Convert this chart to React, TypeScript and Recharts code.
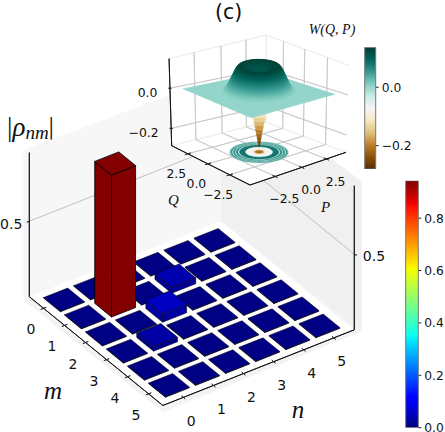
import React from "react";
import { ScatterChart, Scatter, XAxis, YAxis } from "recharts";

// values
const mTicks = [0, 1, 2, 3, 4, 5];
const nTicks = [0, 1, 2, 3, 4, 5];
const rhoRows = [
  [0.004, 0.004, 0.004, 0.004, 0.004, 0.004],
  [0.004, 0.94, 0.004, 0.04, 0.004, 0.004],
  [0.004, 0.004, 0.055, 0.004, 0.004, 0.004],
  [0.004, 0.03, 0.004, 0.004, 0.004, 0.004],
  [0.004, 0.004, 0.004, 0.004, 0.004, 0.004],
  [0.004, 0.004, 0.004, 0.004, 0.004, 0.004],
];
const rhoAxisTicks = [0.5];
const rhoBarTicks = [0, 0.2, 0.4, 0.6, 0.8];
const rhoBarDomain = [0, 0.943];

const phaseTicks = [-2.5, 0, 2.5];
const wAxisTicks = [0, -0.2];
const wBarDomain = [-0.28, 0.137];

// radial cuts of W(Q,P): radius and height, outside to inside
const hillRadius = [2.75, 2.65, 2.55, 2.47, 2.4, 2.33, 2.26, 2.2, 2.14, 2.08, 2.02, 1.96, 1.9, 1.85, 1.8, 1.75, 1.7, 1.65, 1.6, 1.55, 1.5, 1.42, 1.32, 1.2, 1.05, 0.9, 0.7, 0.5, 0.3];
const hillW = [0.003, 0.008, 0.014, 0.02, 0.027, 0.034, 0.042, 0.05, 0.058, 0.066, 0.074, 0.082, 0.09, 0.097, 0.103, 0.109, 0.114, 0.118, 0.122, 0.125, 0.127, 0.128, 0.127, 0.125, 0.122, 0.118, 0.114, 0.111, 0.109];
const spikeRadius = [0, 0.06, 0.11, 0.16, 0.21, 0.27, 0.33, 0.39, 0.45, 0.52, 0.6, 0.68, 0.77, 0.88];
const spikeW = [-0.278, -0.262, -0.245, -0.228, -0.21, -0.19, -0.17, -0.15, -0.13, -0.11, -0.09, -0.07, -0.05, -0.03];
const contourRadius = [2.2, 2.08, 2.0, 1.94, 1.8, 1.74, 1.56, 1.48, 1.02, 0.45, 0.35, 0.22, 0.1];
const contourW = [0.03, 0.058, -0.05, 0.058, -0.05, 0.058, -0.06, 0.082, -0.07, -0.12, -0.18, -0.22, -0.19];

const JET = [
  [0, "#00007f"], [0.11, "#0000ff"], [0.125, "#0000ff"], [0.34, "#00dbff"], [0.375, "#0cfff2"],
  [0.64, "#f6ff00"], [0.66, "#ffea00"], [0.89, "#ff1300"], [0.91, "#ed0000"], [1, "#7f0000"],
] as [number, string][];
const BRBG = [
  [0, "#543005"], [0.1, "#8c510a"], [0.2, "#bf812d"], [0.3, "#dfc27d"], [0.4, "#f6e8c3"], [0.5, "#f5f5f5"],
  [0.6, "#c7eae5"], [0.7, "#80cdc1"], [0.8, "#35978f"], [0.9, "#01665e"], [1, "#003c30"],
] as [number, string][];

const rgb = (h: string) => [1, 3, 5].map((i) => parseInt(h.slice(i, i + 2), 16));
const colorAt = (stops: [number, string][], t: number, k = 1) => {
  const c = Math.min(1, Math.max(0, t));
  let i = 0;
  while (i < stops.length - 2 && c > stops[i + 1][0]) i++;
  const [p0, h0] = stops[i];
  const [p1, h1] = stops[i + 1];
  const f = (c - p0) / (p1 - p0);
  const a = rgb(h0);
  const b = rgb(h1);
  return `rgb(${a.map((v, j) => Math.round((v + (b[j] - v) * f) * k)).join(",")})`;
};
const wColor = (w: number) => colorAt(BRBG, (w - wBarDomain[0]) / (wBarDomain[1] - wBarDomain[0]));
const rhoColor = (v: number, k = 1) => colorAt(JET, v / rhoBarDomain[1], k);

type Pt = { x: number; y: number };

// main 3D axes, nearly affine
const LO = -0.68;
const HI = 5.68;
const mainP = (m: number, n: number, z: number): Pt => ({
  x: 29.3 + (m - LO) * 21 + (n - LO) * 30.1,
  y: 296.7 + (m - LO) * 17.1 - (n - LO) * 11.9 - z * 151,
});

// inset 3D axes, floor quad through a homography
const PH = 4.66;
const ZMIN = -0.286;
const ZTOP = 0.147;
const quad = { f: [250, 185], r: [346, 152.3], b: [266, 122], l: [171.7, 145.7] };
const homography = (() => {
  const [x0, y0] = quad.f;
  const [x1, y1] = quad.r;
  const [x2, y2] = quad.b;
  const [x3, y3] = quad.l;
  const dx1 = x1 - x2, dx2 = x3 - x2, sx = x0 - x1 + x2 - x3;
  const dy1 = y1 - y2, dy2 = y3 - y2, sy = y0 - y1 + y2 - y3;
  const den = dx1 * dy2 - dx2 * dy1;
  const g = (sx * dy2 - dx2 * sy) / den;
  const h = (dx1 * sy - sx * dy1) / den;
  const a = x1 - x0 + g * x1, b = x3 - x0 + h * x3;
  const d = y1 - y0 + g * y1, e = y3 - y0 + h * y3;
  return (u: number, v: number): Pt => {
    const w = g * u + h * v + 1;
    return { x: (a * u + b * v + x0) / w, y: (d * u + e * v + y0) / w };
  };
})();
const insetP = (q: number, p: number, z: number): Pt => {
  const base = homography((p + PH) / (2 * PH), (q + PH) / (2 * PH));
  const h = z - ZMIN;
  const depth = -(q + p) / (2 * PH);
  const tent = z <= 0 ? z - ZMIN : ((ZTOP - z) * -ZMIN) / ZTOP;
  return {
    x: 259 + (base.x - 259) * (1 + 0.07 * h),
    y: base.y - 201 * h - 15.5 * depth * tent,
  };
};

type Poly = { sx: number; sy: number; pts: Pt[]; fill: string; stroke: string; sw: number };
const poly = (pts: Pt[], fill: string, stroke = "none", sw = 0): Poly => ({ sx: pts[0].x, sy: pts[0].y, pts, fill, stroke, sw });
const line = (a: Pt, b: Pt, stroke: string, sw = 0.8): Poly => poly([a, b], "none", stroke, sw);

const PolyShape = (props: any) => {
  const { cx, cy, payload } = props;
  const d = payload as Poly;
  const pts = d.pts.map((p) => `${cx + p.x - d.sx},${cy + p.y - d.sy}`).join(" ");
  return <polygon points={pts} fill={d.fill} stroke={d.stroke} strokeWidth={d.sw} strokeLinejoin="round" />;
};

type Label = { sx: number; sy: number; text: string; size: number; anchor?: string; math?: boolean };
const TextShape = (props: any) => {
  const { cx, cy, payload } = props;
  const d = payload as Label;
  return (
    <text
      x={cx}
      y={cy}
      fontSize={d.size}
      textAnchor={d.anchor ?? "middle"}
      dominantBaseline="central"
      fill="#111"
      fontFamily={d.math ? "'Liberation Serif', serif" : "'DejaVu Sans', sans-serif"}
      fontStyle={d.math ? "italic" : "normal"}
    >
      {d.text}
    </text>
  );
};
const lab = (p: Pt, text: string, size: number, anchor?: string, math?: boolean): Label => ({ sx: p.x, sy: p.y, text, size, anchor, math });
const fmt = (v: number) => v.toFixed(1).replace("-", "\u2212");
const shift = (p: Pt, dx: number, dy: number): Pt => ({ x: p.x + dx, y: p.y + dy });

// main chart panes and axes
const mainPanes: Poly[] = [
  poly([mainP(LO + 0.04, LO - 0.22, 0), mainP(LO + 0.04, LO - 0.22, 0.993), mainP(LO, HI, 0.962), mainP(LO, HI, 0)], "#f7f7f7"),
  poly([mainP(LO, HI, 0), mainP(LO, HI, 0.962), mainP(HI + 0.18, HI + 0.12, 0.993), mainP(HI + 0.18, HI + 0.12, 0)], "#f0f0f0"),
  poly([mainP(LO + 0.04, LO - 0.22, 0), mainP(HI + 0.26, LO - 0.18, 0), mainP(HI + 0.18, HI + 0.12, 0), mainP(LO, HI, 0)], "#f3f3f3"),
  poly([mainP(LO, LO, 0), mainP(HI, LO, 0), mainP(HI, HI, 0), mainP(LO, HI, 0)], "#ffffff"),
];
const mainLines: Poly[] = [
  ...rhoAxisTicks.flatMap((z) => [
    line(mainP(LO, LO, z), mainP(LO, HI, z), "#c9c9c9", 0.9),
    line(mainP(LO, HI, z), mainP(HI, HI, z), "#c9c9c9", 0.9),
    line(mainP(LO, LO, z), shift(mainP(LO, LO, z), -2.5, 1), "#222", 0.8),
    line(mainP(HI, HI, z), shift(mainP(HI, HI, z), 2.5, 1), "#222", 0.8),
  ]),
  line(mainP(LO, LO, 0), mainP(LO, LO, 0.954), "#111", 0.9),
  line(mainP(HI, HI, 0), mainP(HI, HI, 0.954), "#111", 0.9),
  line(mainP(LO, LO, 0), mainP(HI, LO, 0), "#111", 0.9),
  line(mainP(HI, LO, 0), mainP(HI, HI, 0), "#111", 0.9),
  ...mTicks.map((m) => line(mainP(m, LO + 0.09, 0), mainP(m, LO - 0.09, 0), "#222", 0.8)),
  ...nTicks.map((n) => line(mainP(HI - 0.09, n, 0), mainP(HI + 0.09, n, 0), "#222", 0.8)),
];

// one tile or bar per matrix entry, drawn from the back corner forward
const W = 0.4;
const tiles = rhoRows
  .flatMap((row, m) => row.map((value, n) => ({ m, n, value, ...(() => { const p = mainP(m, n, 0); return { sx: p.x, sy: p.y }; })() })))
  .sort((a, b) => a.m - a.n - (b.m - b.n));

const BarShape = (props: any) => {
  const { cx, cy, payload } = props;
  const { m, n, value, sx, sy } = payload;
  const at = (dm: number, dn: number, z: number) => {
    const p = mainP(m + dm, n + dn, z);
    return `${cx + p.x - sx},${cy + p.y - sy}`;
  };
  const tall = value > 0.5;
  const edge = { stroke: "#000", strokeWidth: tall ? 0.8 : 0.5, strokeLinejoin: "round" as const };
  const side = tall ? 0.99 : 0.84;
  return (
    <g>
      <polygon points={[at(-W, -W, 0), at(W, -W, 0), at(W, -W, value), at(-W, -W, value)].join(" ")} fill={rhoColor(value, side)} {...edge} />
      <polygon points={[at(W, -W, 0), at(W, W, 0), at(W, W, value), at(W, -W, value)].join(" ")} fill={rhoColor(value, side)} {...edge} />
      <polygon points={[at(-W, -W, value), at(W, -W, value), at(W, W, value), at(-W, W, value)].join(" ")} fill={rhoColor(value)} {...edge} />
    </g>
  );
};

const mainLabels: Label[] = [
  ...mTicks.map((m) => lab(shift(mainP(m, LO, 0), -12.7, 21), String(m), 14)),
  ...nTicks.map((n) => lab(shift(mainP(HI, n, 0), 8, 23.3), String(n), 14)),
  ...rhoAxisTicks.map((z) => lab(shift(mainP(LO, LO, z), -7, 2.5), fmt(z), 14, "end")),
  ...rhoAxisTicks.map((z) => lab(shift(mainP(HI, HI, z), 8.5, 2), fmt(z), 14, "start")),
  lab({ x: 53, y: 390 }, "m", 25, "middle", true),
  lab({ x: 298, y: 409 }, "n", 25, "middle", true),
  lab({ x: 228.7, y: 11.5 }, "(c)", 20.5),
];

// inset panes, grid, surface
const insetBack: Poly[] = [
  poly(
    [insetP(PH, -PH, ZMIN), insetP(-PH, -PH, ZMIN), insetP(-PH, PH, ZMIN), insetP(-PH, PH, ZTOP), insetP(PH, PH, ZTOP), insetP(PH, -PH, ZTOP)],
    "#ffffff"
  ),
];
const insetGrid: Poly[] = [
  line(insetP(PH, PH, ZMIN), insetP(PH, PH, ZTOP), "#ececec", 0.8),
  line(insetP(PH, -PH, ZTOP), insetP(PH, PH, ZTOP), "#ececec", 0.8),
  line(insetP(PH, PH, ZTOP), insetP(-PH, PH, ZTOP), "#ececec", 0.8),
  line(insetP(PH, PH, ZMIN), insetP(PH, -PH, ZMIN), "#ececec", 0.8),
  line(insetP(PH, PH, ZMIN), insetP(-PH, PH, ZMIN), "#ececec", 0.8),
  ...phaseTicks.flatMap((t) => [
    line(insetP(t, -PH, ZMIN), insetP(t, PH, ZMIN), "#c6c6c6"),
    line(insetP(-PH, t, ZMIN), insetP(PH, t, ZMIN), "#c6c6c6"),
    line(insetP(PH, t, ZMIN), insetP(PH, t, ZTOP), "#c6c6c6"),
    line(insetP(t, PH, ZMIN), insetP(t, PH, ZTOP), "#c6c6c6"),
  ]),
  ...wAxisTicks.flatMap((z) => [
    line(insetP(PH, -PH, z), insetP(PH, PH, z), "#c6c6c6"),
    line(insetP(PH, PH, z), insetP(-PH, PH, z), "#c6c6c6"),
  ]),
  line(insetP(PH, -PH, ZMIN), insetP(PH, -PH, ZTOP), "#111", 0.9),
  line(insetP(PH, -PH, ZMIN), insetP(-PH, -PH, ZMIN), "#111", 0.9),
  line(insetP(-PH, -PH, ZMIN), insetP(-PH, PH, ZMIN), "#111", 0.9),
  ...wAxisTicks.map((z) => line(shift(insetP(PH, -PH, z), -1.5, 0), shift(insetP(PH, -PH, z), 1.5, 0), "#222", 0.8)),
  ...phaseTicks.map((t) => line(insetP(t, -PH + 0.25, ZMIN), insetP(t, -PH - 0.25, ZMIN), "#222", 0.8)),
  ...phaseTicks.map((t) => line(insetP(-PH + 0.25, t, ZMIN), insetP(-PH - 0.25, t, ZMIN), "#222", 0.8)),
];

const ANGLES = Array.from({ length: 72 }, (_, i) => (i * Math.PI) / 36);
const ring = (r: number, z: number, fill: string): Poly =>
  poly(ANGLES.map((a) => insetP(r * Math.cos(a), r * Math.sin(a), z)), fill, fill, 0.4);

const CONTOUR_Z = -0.3;
const contourRings = contourRadius.map((r, i) => ring(r, CONTOUR_Z, wColor(contourW[i])));

// spike seen from outside: one band between each pair of radial cuts, deepest first
const DIAG = Math.SQRT1_2;
const spikeBands = spikeRadius.slice(0, -1).map((r, i) => {
  const R = spikeRadius[i + 1];
  const z0 = spikeW[i];
  const z1 = spikeW[i + 1];
  const fill = wColor((z0 + z1) / 2);
  return poly(
    [
      insetP(r * DIAG, -r * DIAG, z0),
      insetP(-r * DIAG, r * DIAG, z0),
      insetP(-R * DIAG, R * DIAG, z1),
      insetP(R * DIAG, -R * DIAG, z1),
    ],
    fill, fill, 0.4
  );
});

const planeCorner = 4;
const planeMark = [
  poly(
    [insetP(-planeCorner, -planeCorner, 0), insetP(-planeCorner, planeCorner, 0), insetP(planeCorner, planeCorner, 0), insetP(planeCorner, -planeCorner, 0)],
    wColor(0), wColor(0), 0.3
  ),
];
const hillRings = hillRadius.map((r, i) => ring(r, hillW[i], wColor(hillW[i])));

const insetLabels: Label[] = [
  ...wAxisTicks.map((z) => lab(shift(insetP(PH, -PH, z), -12.5, 4.5), fmt(z), 12.4, "end")),
  ...phaseTicks.map((t) => lab(shift(insetP(t, -PH, ZMIN), -11.5, 20), fmt(t), 12.4)),
  ...phaseTicks.map((t) => lab(shift(insetP(-PH, t, ZMIN), 9.3, 22.5), fmt(t), 12.4)),
  lab({ x: 173.5, y: 200 }, "Q", 15, "middle", true),
  lab({ x: 325.5, y: 207 }, "P", 15, "middle", true),
  lab({ x: 332, y: 29 }, "W(Q, P)", 14, "middle", true),
];

const PAGE_W = 445;
const PAGE_H = 432;

const series = (data: any[], shape: any) => <Scatter data={data} shape={shape} isAnimationActive={false} />;

interface BarProps {
  id: string;
  stops: [number, string][];
  domain: number[];
  ticks: number[];
  left: number;
  top: number;
  width: number;
  height: number;
  margin: { top: number; bottom: number; left: number };
  barWidth: number;
}

const ColorBar: React.FC<BarProps> = ({ id, stops, domain, ticks, left, top, width, height, margin, barWidth }) => {
  // a single point at the bar's top left corner carries the gradient rectangle
  const GradientRect = (props: any) => (
    <g>
      <defs>
        <linearGradient id={id} x1="0" y1="1" x2="0" y2="0">
          {stops.map(([o, c]) => (
            <stop key={o} offset={o} stopColor={c} />
          ))}
        </linearGradient>
      </defs>
      <rect x={props.cx} y={props.cy} width={barWidth} height={height - margin.top - margin.bottom} fill={`url(#${id})`} stroke="#777" strokeWidth={1} />
    </g>
  );
  return (
    <div style={{ position: "absolute", left, top }}>
      <ScatterChart width={width} height={height} margin={{ ...margin, right: 0 }}>
        <XAxis type="number" dataKey="x" domain={[0, 1]} hide />
        <YAxis
          type="number"
          dataKey="y"
          orientation="right"
          domain={domain}
          ticks={ticks}
          interval={0}
          allowDataOverflow
          width={width - margin.left - barWidth}
          axisLine={false}
          tickSize={3}
          tickMargin={3}
          tickLine={{ stroke: "#222" }}
          tick={{ fontSize: 12.3, fill: "#111", fontFamily: "'DejaVu Sans', sans-serif" }}
          tickFormatter={fmt}
        />
        <Scatter data={[{ x: 0, y: domain[1] }]} shape={GradientRect} isAnimationActive={false} />
      </ScatterChart>
    </div>
  );
};

export default function App() {
  return (
    <div style={{ position: "absolute", left: 0, top: 0, width: PAGE_W, height: PAGE_H, overflow: "hidden", background: "#fff" }}>
      <div style={{ position: "absolute", left: 0, top: 0 }}>
        <ScatterChart width={PAGE_W} height={PAGE_H} margin={{ top: 0, right: 0, bottom: 0, left: 0 }}>
          <XAxis type="number" dataKey="sx" domain={[0, PAGE_W]} hide />
          <YAxis type="number" dataKey="sy" domain={[0, PAGE_H]} reversed hide width={0} />
          {series(mainPanes, PolyShape)}
          {series(mainLines, PolyShape)}
          {series(tiles, BarShape)}
          {series(mainLabels, TextShape)}
          {series(insetBack, PolyShape)}
          {series(insetGrid, PolyShape)}
          {series(contourRings, PolyShape)}
          {series(spikeBands, PolyShape)}
          {series(planeMark, PolyShape)}
          {series(hillRings, PolyShape)}
          {series(insetLabels, TextShape)}
          <text x={7} y={136} fill="#111" fontFamily="'Liberation Serif', serif">
            <tspan fontSize={27}>|</tspan>
            <tspan fontSize={27} fontStyle="italic">ρ</tspan>
            <tspan fontSize={19} fontStyle="italic" dy={3}>nm</tspan>
            <tspan fontSize={27} dy={-3}>|</tspan>
          </text>
        </ScatterChart>
      </div>
      <ColorBar id="jetBar" stops={JET} domain={rhoBarDomain} ticks={rhoBarTicks} left={400} top={170} width={45} height={262} margin={{ top: 10.7, bottom: 4.3, left: 5.7 }} barWidth={12.6} />
      <ColorBar id="brbgBar" stops={BRBG} domain={wBarDomain} ticks={wAxisTicks} left={360} top={40} width={60} height={135} margin={{ top: 7.3, bottom: 6, left: 4.7 }} barWidth={11} />
    </div>
  );
}
